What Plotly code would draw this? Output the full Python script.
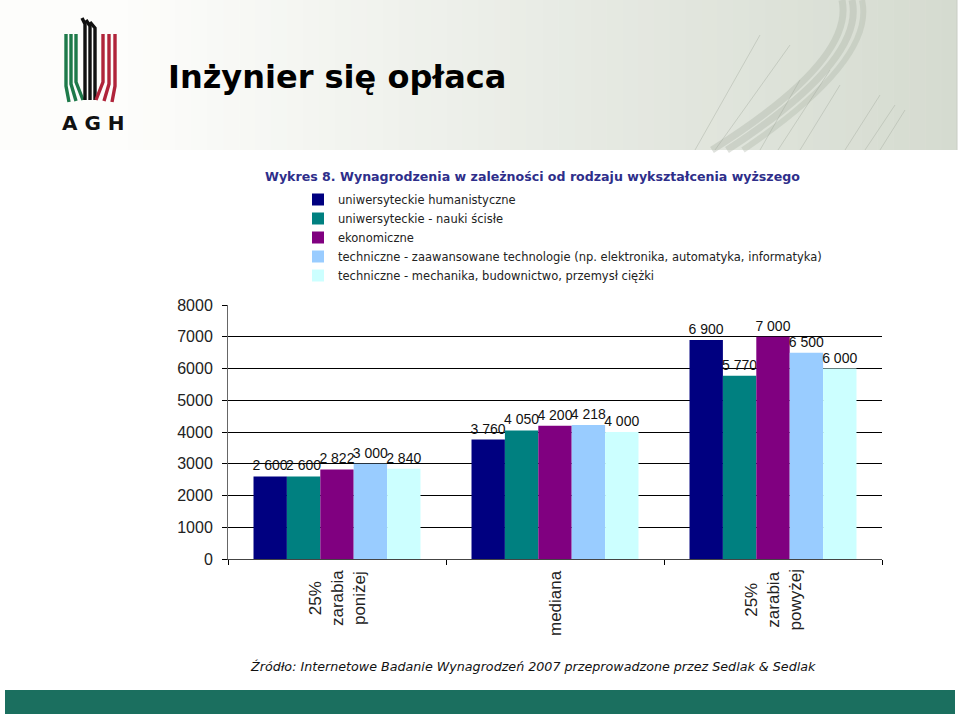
import plotly.graph_objects as go

# ---- data ----
categories = ["25% zarabia poniżej", "mediana", "25% zarabia powyżej"]
category_labels = ["25%<br>zarabia<br>poniżej", "mediana", "25%<br>zarabia<br>powyżej"]
series_names = [
    "uniwersyteckie humanistyczne",
    "uniwersyteckie - nauki ścisłe",
    "ekonomiczne",
    "techniczne - zaawansowane technologie (np. elektronika, automatyka, informatyka)",
    "techniczne - mechanika, budownictwo, przemysł ciężki",
]
humanistyczne = [2600, 3760, 6900]
nauki_scisle = [2600, 4050, 5770]
ekonomiczne = [2822, 4200, 7000]
zaawansowane = [3000, 4218, 6500]
mechanika = [2840, 4000, 6000]
series_values = [humanistyczne, nauki_scisle, ekonomiczne, zaawansowane, mechanika]
colors = ["#000080", "#008080", "#800080", "#99CCFF", "#CCFFFF"]
y_ticks = [0, 1000, 2000, 3000, 4000, 5000, 6000, 7000, 8000]

# ---- layout geometry (pixels) ----
FW, FH = 960, 716
X0, X1 = 228, 882
Y0, Y1 = 559, 305
W, H = X1 - X0, Y0 - Y1


def px(x):
    return (x - X0) / W


def py(y):
    return (Y0 - y) / H


def fmt(v):
    return f"{v:,}".replace(",", " ")


fig = go.Figure()
for name, vals, col in zip(series_names, series_values, colors):
    fig.add_trace(go.Bar(
        x=categories, y=vals, name=name,
        marker=dict(color=col, line=dict(width=0)),
        text=[fmt(v) for v in vals], textposition="outside",
        constraintext="none", cliponaxis=False,
        textfont=dict(family="Liberation Sans, Arial", size=14, color="#111"),
        hoverinfo="skip",
    ))

shapes = []
# header gradient (stepped)
n = 60
c0 = (253, 253, 251)
c1 = (213, 219, 208)
for i in range(n):
    t = i / (n - 1)
    t2 = max(0.0, (t - 0.12) / 0.88)
    c = tuple(int(round(a + (b - a) * t2)) for a, b in zip(c0, c1))
    xa = i * 957 / n
    xb = (i + 1) * 957 / n + 0.6
    shapes.append(dict(type="rect", xref="paper", yref="paper",
                       x0=px(xa), x1=px(min(xb, 957)), y0=py(150), y1=py(0),
                       fillcolor=f"rgb{c}", line=dict(width=0), layer="below"))


def path(points, curve=False):
    s = "M %f %f" % (px(points[0][0]), py(points[0][1]))
    if curve:
        s += " Q %f %f %f %f" % (px(points[1][0]), py(points[1][1]), px(points[2][0]), py(points[2][1]))
    else:
        for p in points[1:]:
            s += " L %f %f" % (px(p[0]), py(p[1]))
    return s


# decorative bands on header
for (xt, xm, ym, xb, w, col) in [
    (842, 855, 60, 712, 7, "rgba(170,178,165,0.38)"),
    (852, 866, 60, 727, 7, "rgba(170,178,165,0.38)"),
    (862, 876, 60, 743, 6, "rgba(170,178,165,0.34)"),
]:
    shapes.append(dict(type="path", xref="paper", yref="paper",
                       path=path([(xt, 0), (xm, ym), (xb, 150)], curve=True),
                       line=dict(color=col, width=w), layer="below"))
for (xa, ya, xb, yb) in [(760, 35, 695, 150), (790, 45, 715, 150), (800, 80, 760, 150),
                         (840, 85, 800, 150), (880, 95, 845, 150), (895, 105, 865, 150),
                         (905, 110, 880, 150), (830, 70, 778, 150)]:
    shapes.append(dict(type="line", xref="paper", yref="paper",
                       x0=px(xa), y0=py(ya), x1=px(xb), y1=py(yb),
                       line=dict(color="rgba(160,168,156,0.4)", width=1), layer="below"))
shapes.append(dict(type="line", xref="paper", yref="paper", x0=px(957), x1=px(957),
                   y0=py(0), y1=py(150), line=dict(color="#c8ccc4", width=1), layer="below"))

# AGH logo stripes
for xs, col, top in [((66, 71, 76), "#1e7a4a", 34), ((85, 90, 95), "#111111", 18), ((103, 109, 115), "#b0243a", 34)]:
    for k, x in enumerate(xs):
        if col == "#111111":
            pts = [(x, 100), (x, top + 6 + 2 * k), (x - 3 - k, top + 2 * k)]
        elif col == "#1e7a4a":
            pts = [(x, top), (x, 86 - 2 * k), (x + 3 + 2 * k, 102 - k)]
        else:
            pts = [(x, top), (x, 86 - 2 * (2 - k)), (x - 3 - 2 * (2 - k), 102 - (2 - k))]
        shapes.append(dict(type="path", xref="paper", yref="paper",
                           path=path(pts), line=dict(color=col, width=3.4)))

# bottom bar
shapes.append(dict(type="rect", xref="paper", yref="paper",
                   x0=px(5), x1=px(955), y0=py(714), y1=py(690),
                   fillcolor="#1b6f5f", line=dict(width=0)))

annotations = [
    dict(text="<b>Inżynier się opłaca</b>", x=px(166), y=py(77), xref="paper", yref="paper",
         xanchor="left", yanchor="middle", showarrow=False,
         font=dict(family="DejaVu Sans", size=32, color="#000")),
    dict(text="<b>A G H</b>", x=px(93), y=py(123), xref="paper", yref="paper",
         xanchor="center", yanchor="middle", showarrow=False,
         font=dict(family="DejaVu Sans", size=20, color="#111")),
    dict(text="<b>Wykres 8. Wynagrodzenia w zależności od rodzaju wykształcenia wyższego</b>",
         x=px(263), y=py(176), xref="paper", yref="paper",
         xanchor="left", yanchor="middle", showarrow=False,
         font=dict(family="DejaVu Sans", size=12.6, color="#2e2e8a")),
    dict(text="<i>Źródło: Internetowe Badanie Wynagrodzeń 2007 przeprowadzone przez Sedlak &amp; Sedlak</i>",
         x=px(248), y=py(666), xref="paper", yref="paper",
         xanchor="left", yanchor="middle", showarrow=False,
         font=dict(family="DejaVu Sans", size=12.7, color="#111")),
]
# category labels (rotated, centred lines)
for cat, lab in zip(categories, category_labels):
    annotations.append(dict(text=lab, x=cat, xref="x", y=py(568), yref="paper",
                            xanchor="center", yanchor="top", textangle=-90, align="center",
                            showarrow=False,
                            font=dict(family="Liberation Sans, Arial", size=17, color="#222")))

fig.update_layout(
    width=FW, height=FH,
    margin=dict(l=X0, r=FW - X1, t=Y1, b=FH - Y0, pad=0),
    paper_bgcolor="white", plot_bgcolor="white",
    barmode="group", bargap=0.234, bargroupgap=0,
    showlegend=True,
    legend=dict(x=px(298), y=py(185), xanchor="left", yanchor="top",
                font=dict(family="DejaVu Sans", size=11.5, color="#222"),
                bgcolor="rgba(0,0,0,0)", tracegroupgap=0, itemclick=False),
    shapes=shapes, annotations=annotations,
    xaxis=dict(type="category", tickson="boundaries", ticks="outside", ticklen=5,
               tickcolor="#000", showline=True, linecolor="#444", linewidth=1,
               showticklabels=False, showgrid=False),
    yaxis=dict(range=[0, 8000], tickvals=y_ticks, ticktext=[str(v) for v in y_ticks],
               ticks="outside", ticklen=5, tickcolor="#000", ticklabelstandoff=6,
               showline=True, linecolor="#666", linewidth=1,
               showgrid=True, gridcolor="#000", gridwidth=1, zeroline=False,
               tickfont=dict(family="Liberation Sans, Arial", size=16, color="#222")),
)

fig.write_html("out.html", config={"displayModeBar": False},
               post_script="document.body.style.margin='0px';document.body.style.overflow='hidden';")
